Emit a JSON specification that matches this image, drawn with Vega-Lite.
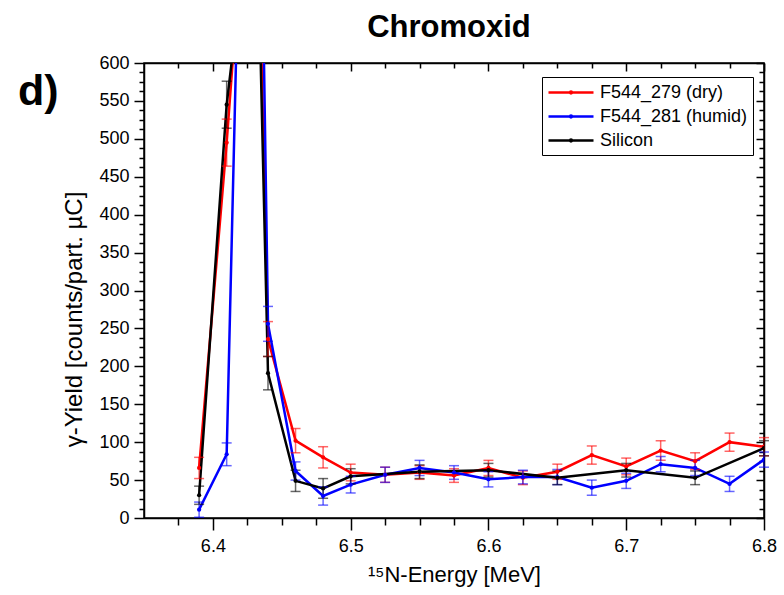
{
  "$schema": "https://vega.github.io/schema/vega-lite/v6.json",
  "width": 620,
  "height": 455,
  "autosize": {"type": "none"},
  "padding": {"left": 144, "top": 63, "right": 20, "bottom": 77},
  "background": "white",
  "config": {
    "font": "Liberation Sans",
    "view": {"stroke": "black", "strokeWidth": 1.5},
    "axis": {"grid": false, "domainColor": "black", "domainWidth": 1.5, "tickColor": "black", "tickWidth": 1.5, "labelColor": "black", "titleColor": "black", "labelFont": "Liberation Sans", "labelFontSize": 18, "titleFontWeight": "normal", "titleFont": "Liberation Sans"}
  },
  "title": {"text": "Chromoxid", "font": "Liberation Sans", "fontSize": 31, "fontWeight": "bold", "color": "black", "anchor": "middle", "frame": "group", "offset": 10, "dx": -5},
  "datasets": {
    "main": [
      {"s": "F544_279 (dry)", "e": 6.39, "y": 66, "err": 14},
      {"s": "F544_279 (dry)", "e": 6.41, "y": 495, "err": 31},
      {"s": "F544_279 (dry)", "e": 6.42, "y": 740, "err": 40},
      {"s": "F544_279 (dry)", "e": 6.43, "y": 1030, "err": 50},
      {"s": "F544_279 (dry)", "e": 6.44, "y": 236, "err": 23},
      {"s": "F544_279 (dry)", "e": 6.46, "y": 102, "err": 16},
      {"s": "F544_279 (dry)", "e": 6.48, "y": 80, "err": 14},
      {"s": "F544_279 (dry)", "e": 6.5, "y": 60, "err": 11},
      {"s": "F544_279 (dry)", "e": 6.525, "y": 57, "err": 10},
      {"s": "F544_279 (dry)", "e": 6.55, "y": 60, "err": 9},
      {"s": "F544_279 (dry)", "e": 6.575, "y": 56, "err": 9},
      {"s": "F544_279 (dry)", "e": 6.6, "y": 66, "err": 10},
      {"s": "F544_279 (dry)", "e": 6.625, "y": 53, "err": 9},
      {"s": "F544_279 (dry)", "e": 6.65, "y": 61, "err": 10},
      {"s": "F544_279 (dry)", "e": 6.675, "y": 83, "err": 12},
      {"s": "F544_279 (dry)", "e": 6.7, "y": 68, "err": 11},
      {"s": "F544_279 (dry)", "e": 6.725, "y": 89, "err": 13},
      {"s": "F544_279 (dry)", "e": 6.75, "y": 75, "err": 11},
      {"s": "F544_279 (dry)", "e": 6.775, "y": 100, "err": 12},
      {"s": "F544_279 (dry)", "e": 6.8, "y": 94, "err": 12},
      {"s": "F544_281 (humid)", "e": 6.39, "y": 11, "err": 10},
      {"s": "F544_281 (humid)", "e": 6.41, "y": 84, "err": 15},
      {"s": "F544_281 (humid)", "e": 6.42, "y": 850, "err": 45},
      {"s": "F544_281 (humid)", "e": 6.43, "y": 1440, "err": 60},
      {"s": "F544_281 (humid)", "e": 6.44, "y": 256, "err": 23},
      {"s": "F544_281 (humid)", "e": 6.46, "y": 62, "err": 12},
      {"s": "F544_281 (humid)", "e": 6.48, "y": 29, "err": 12},
      {"s": "F544_281 (humid)", "e": 6.5, "y": 44, "err": 11},
      {"s": "F544_281 (humid)", "e": 6.525, "y": 57, "err": 10},
      {"s": "F544_281 (humid)", "e": 6.55, "y": 66, "err": 10},
      {"s": "F544_281 (humid)", "e": 6.575, "y": 60, "err": 9},
      {"s": "F544_281 (humid)", "e": 6.6, "y": 51, "err": 10},
      {"s": "F544_281 (humid)", "e": 6.625, "y": 54, "err": 9},
      {"s": "F544_281 (humid)", "e": 6.65, "y": 54, "err": 10},
      {"s": "F544_281 (humid)", "e": 6.675, "y": 40, "err": 10},
      {"s": "F544_281 (humid)", "e": 6.7, "y": 49, "err": 10},
      {"s": "F544_281 (humid)", "e": 6.725, "y": 71, "err": 10},
      {"s": "F544_281 (humid)", "e": 6.75, "y": 66, "err": 10},
      {"s": "F544_281 (humid)", "e": 6.775, "y": 45, "err": 10},
      {"s": "F544_281 (humid)", "e": 6.8, "y": 77, "err": 10},
      {"s": "Silicon", "e": 6.39, "y": 30, "err": 12},
      {"s": "Silicon", "e": 6.41, "y": 545, "err": 31},
      {"s": "Silicon", "e": 6.42, "y": 700, "err": 40},
      {"s": "Silicon", "e": 6.43, "y": 965, "err": 50},
      {"s": "Silicon", "e": 6.44, "y": 191, "err": 22},
      {"s": "Silicon", "e": 6.46, "y": 49, "err": 14},
      {"s": "Silicon", "e": 6.48, "y": 39, "err": 13},
      {"s": "Silicon", "e": 6.5, "y": 55, "err": 10},
      {"s": "Silicon", "e": 6.55, "y": 61, "err": 9},
      {"s": "Silicon", "e": 6.6, "y": 63, "err": 9},
      {"s": "Silicon", "e": 6.65, "y": 53, "err": 9},
      {"s": "Silicon", "e": 6.7, "y": 63, "err": 9},
      {"s": "Silicon", "e": 6.75, "y": 53, "err": 9},
      {"s": "Silicon", "e": 6.8, "y": 92, "err": 10}
    ]
  },
  "data": {"name": "main"},
  "layer": [
    {
      "mark": {"type": "line", "clip": true, "strokeWidth": 2.5},
      "encoding": {
        "x": {"field": "e", "type": "quantitative", "scale": {"domain": [6.35, 6.8], "nice": false, "zero": false},
          "axis": {"orient": "bottom", "values": [6.375, 6.4, 6.425, 6.45, 6.475, 6.5, 6.525, 6.55, 6.575, 6.6, 6.625, 6.65, 6.675, 6.7, 6.725, 6.75, 6.775, 6.8],
            "labelExpr": "abs(datum.value*10 - round(datum.value*10)) < 0.001 ? format(datum.value, '.1f') : ''",
            "tickSize": {"condition": {"test": "abs(datum.value*10 - round(datum.value*10)) < 0.001", "value": 12}, "value": 7},
            "labelPadding": 7, "labelOverlap": false, "labelFlush": false,
            "title": "¹⁵N-Energy [MeV]", "titleFontSize": 22, "titlePadding": 9}},
        "y": {"field": "y", "type": "quantitative", "scale": {"domain": [0, 600], "nice": false, "zero": true},
          "axis": {"orient": "left", "values": [0, 12.5, 25, 37.5, 50, 62.5, 75, 87.5, 100, 112.5, 125, 137.5, 150, 162.5, 175, 187.5, 200, 212.5, 225, 237.5, 250, 262.5, 275, 287.5, 300, 312.5, 325, 337.5, 350, 362.5, 375, 387.5, 400, 412.5, 425, 437.5, 450, 462.5, 475, 487.5, 500, 512.5, 525, 537.5, 550, 562.5, 575, 587.5, 600],
            "labelExpr": "datum.value % 50 === 0 ? datum.label : ''",
            "tickSize": {"condition": {"test": "datum.value % 50 === 0", "value": 10}, "value": 5},
            "labelPadding": 5, "labelOverlap": false, "labelFlush": false,
            "title": "γ-Yield [counts/part. µC]", "titleFontSize": 24, "titlePadding": 12, "titleY": 256}},
        "color": {"field": "s", "type": "nominal",
          "scale": {"domain": ["F544_279 (dry)", "F544_281 (humid)", "Silicon"], "range": ["#ff0000", "#0000ff", "#000000"]},
          "legend": {"title": null, "orient": "none", "legendX": 398, "legendY": 14, "strokeColor": "black", "fillColor": "white", "padding": 5, "labelFontSize": 18, "labelFont": "Liberation Sans", "labelColor": "black", "symbolType": "M-1,0L4,0M1.4,0a0.1,0.1 0 1,0 0.2,0a0.1,0.1 0 1,0 -0.2,0", "symbolSize": 324, "symbolStrokeWidth": 2.5, "rowPadding": 4, "labelOffset": 32}}
      }
    },
    {
      "transform": [{"filter": "datum.y <= 600"}],
      "mark": {"type": "errorbar", "ticks": {"size": 10, "thickness": 1.5}, "thickness": 1.5, "opacity": 0.6},
      "encoding": {
        "x": {"field": "e", "type": "quantitative", "axis": null},
        "y": {"field": "y", "type": "quantitative", "axis": null},
        "yError": {"field": "err"},
        "color": {"field": "s", "type": "nominal", "legend": null}
      }
    },
    {
      "mark": {"type": "point", "filled": true, "size": 18, "opacity": 1, "clip": true},
      "encoding": {
        "x": {"field": "e", "type": "quantitative", "axis": null},
        "y": {"field": "y", "type": "quantitative", "axis": null},
        "color": {"field": "s", "type": "nominal", "legend": null}
      }
    },
    {
      "data": {"values": [{"label": "d)"}]},
      "mark": {"type": "text", "align": "left", "baseline": "alphabetic", "dx": -126, "dy": 42, "font": "Liberation Sans", "fontSize": 43, "fontWeight": "bold", "color": "black"},
      "encoding": {
        "text": {"field": "label"},
        "x": {"datum": 6.35, "type": "quantitative",
          "axis": {"orient": "top", "values": [6.375, 6.4, 6.425, 6.45, 6.475, 6.5, 6.525, 6.55, 6.575, 6.6, 6.625, 6.65, 6.675, 6.7, 6.725, 6.75, 6.775, 6.8], "labels": false, "title": null,
            "tickSize": {"condition": {"test": "abs(datum.value*10 - round(datum.value*10)) < 0.001", "value": -8}, "value": -5}}},
        "y": {"datum": 600, "type": "quantitative",
          "axis": {"orient": "right", "values": [0, 12.5, 25, 37.5, 50, 62.5, 75, 87.5, 100, 112.5, 125, 137.5, 150, 162.5, 175, 187.5, 200, 212.5, 225, 237.5, 250, 262.5, 275, 287.5, 300, 312.5, 325, 337.5, 350, 362.5, 375, 387.5, 400, 412.5, 425, 437.5, 450, 462.5, 475, 487.5, 500, 512.5, 525, 537.5, 550, 562.5, 575, 587.5, 600], "labels": false, "title": null,
            "tickSize": {"condition": {"test": "datum.value % 50 === 0", "value": -8}, "value": -5}}}
      }
    }
  ],
  "resolve": {"axis": {"x": "independent", "y": "independent"}}
}
